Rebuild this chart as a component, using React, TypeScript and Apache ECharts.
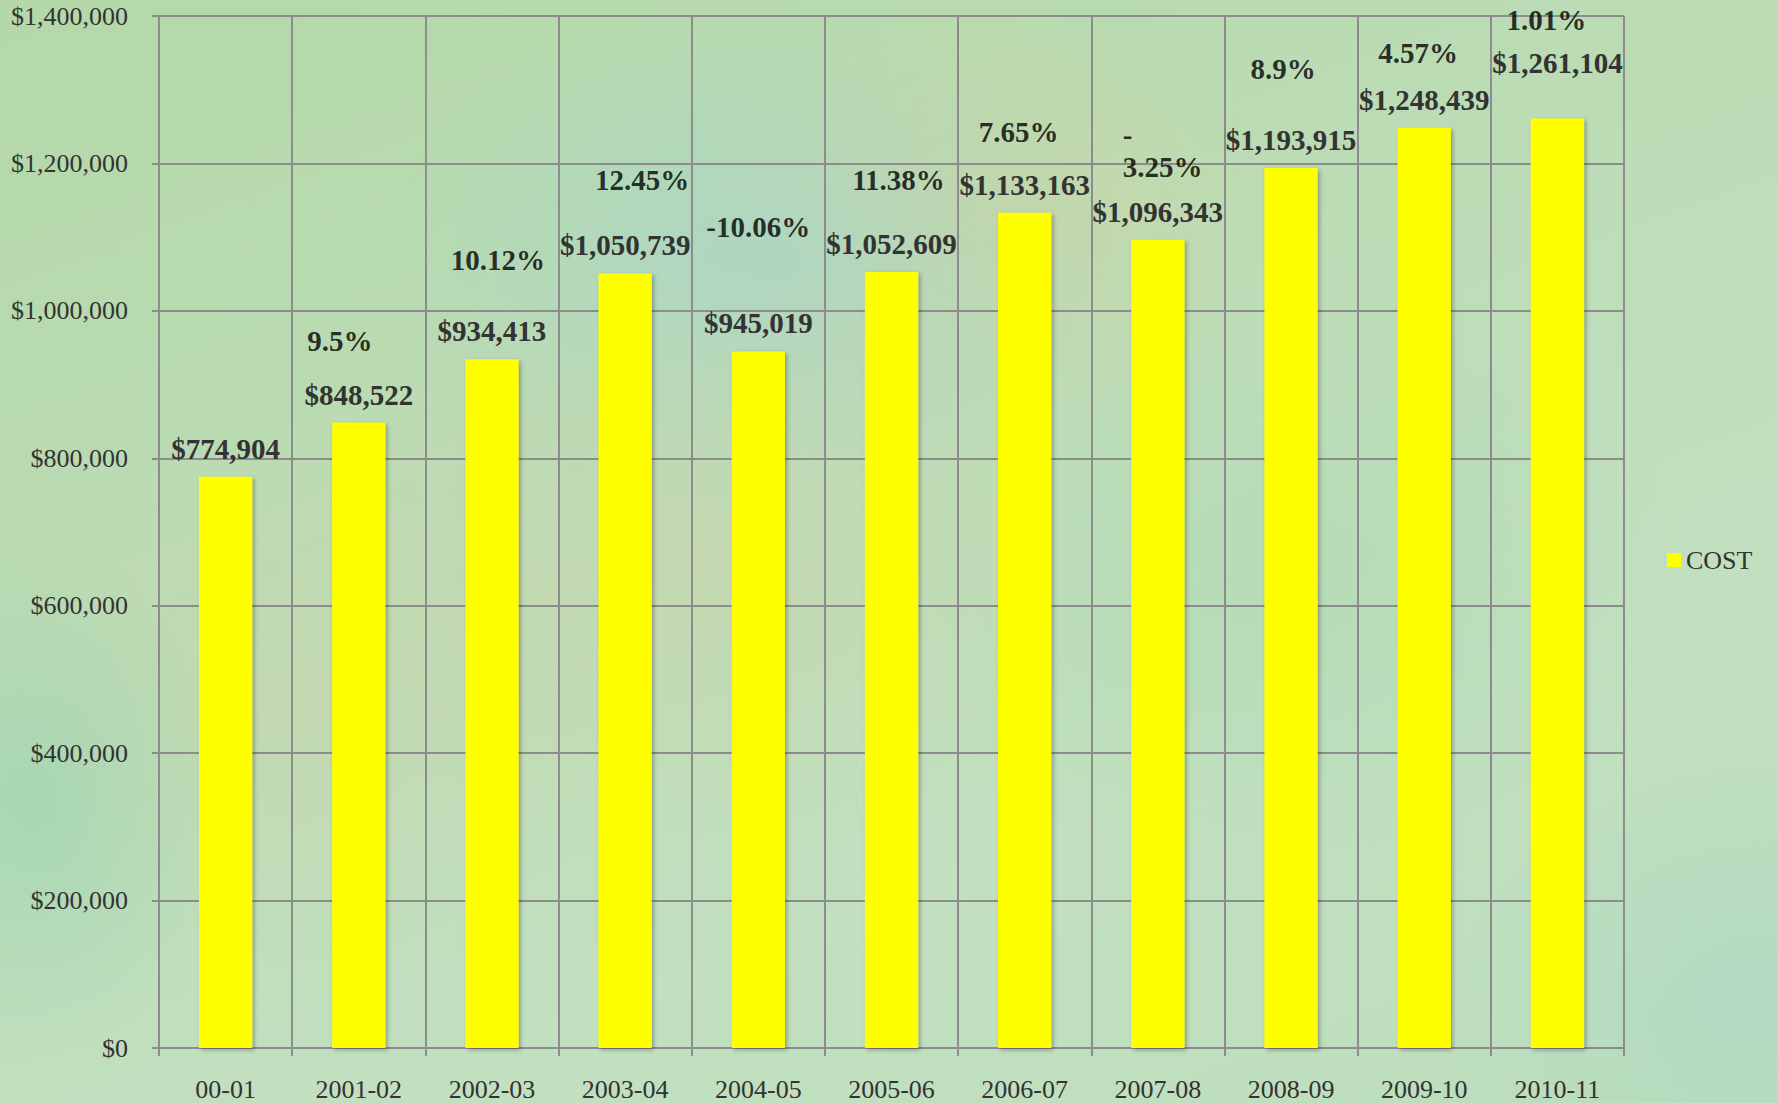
import React, { useEffect, useRef } from "react";
import * as echarts from "echarts";

const categories = ["00-01", "2001-02", "2002-03", "2003-04", "2004-05", "2005-06", "2006-07", "2007-08", "2008-09", "2009-10", "2010-11"];
const costs = [774904, 848522, 934413, 1050739, 945019, 1052609, 1133163, 1096343, 1193915, 1248439, 1261104];
const pctLabels = ["", "9.5%", "10.12%", "12.45%", "-10.06%", "11.38%", "7.65%", "-\n3.25%", "8.9%", "4.57%", "1.01%"];
const seriesName = "COST";

// layout-only: label offsets (px) relative to bar top centre
const pctOffsets = [[0, 0], [-19, -82], [6, -99], [17, -93], [0, -124], [7, -92], [-6, -81], [-35, -89], [-8, -99], [-6, -75], [-11, -98]];
const pctAlign = ["center", "center", "center", "center", "center", "center", "center", "left", "center", "center", "center"];
const valueOffsetY = [0, 0, 0, 0, 0, 0, 0, 0, 0, 0, -27];

const FONT = "'Liberation Serif', 'Times New Roman', serif";
const fmtMoney = (v: number) => "$" + String(Math.round(v)).replace(/\B(?=(\d{3})+(?!\d))/g, ",");

export default function App() {
  const ref = useRef<HTMLDivElement>(null);
  useEffect(() => {
    if (!ref.current) return;
    const chart = echarts.init(ref.current, undefined, { renderer: "svg" });
    const gridColor = "#8c8c8c";
    chart.setOption({
      animation: false,
      backgroundColor: "transparent",
      textStyle: { fontFamily: FONT },
      grid: { left: 159, right: 153, top: 16, bottom: 55, containLabel: false },
      legend: {
        data: [{ name: seriesName, icon: "rect" }],
        orient: "vertical",
        left: 1662,
        top: 542,
        itemWidth: 14,
        itemHeight: 14,
        itemGap: 6,
        textStyle: { fontFamily: FONT, fontSize: 26, color: "#333", padding: [0, 0, 0, 0] },
      },
      xAxis: {
        type: "category",
        data: categories,
        boundaryGap: true,
        axisLine: { show: true, lineStyle: { color: gridColor, width: 2 } },
        axisTick: { show: true, length: 8, lineStyle: { color: gridColor, width: 2 } },
        axisLabel: { fontFamily: FONT, fontSize: 26, color: "#333", margin: 28, interval: 0 },
        splitLine: { show: true, lineStyle: { color: gridColor, width: 2 } },
      },
      yAxis: {
        type: "value",
        min: 0,
        max: 1400000,
        interval: 200000,
        axisLine: { show: true, lineStyle: { color: gridColor, width: 2 } },
        axisTick: { show: true, length: 7, lineStyle: { color: gridColor, width: 2 } },
        axisLabel: { fontFamily: FONT, fontSize: 26, color: "#333", margin: 31, formatter: (v: number) => fmtMoney(v) },
        splitLine: { show: true, lineStyle: { color: gridColor, width: 2 } },
      },
      series: [
        {
          name: seriesName,
          type: "bar",
          barCategoryGap: "60%",
          itemStyle: {
            color: "#ffff00",
            shadowBlur: 4,
            shadowColor: "rgba(0,0,0,0.3)",
            shadowOffsetX: 2,
            shadowOffsetY: 2,
          },
          label: {
            show: true,
            position: "top",
            distance: 14,
            fontFamily: FONT,
            fontSize: 29,
            fontWeight: "bold",
            color: "#333",
            lineHeight: 28,
            formatter: (p: any) => fmtMoney(p.value),
          },
          data: costs.map((v, i) => ({ value: v, label: { offset: [0, valueOffsetY[i]] } })),
        },
        {
          name: "pct",
          type: "scatter",
          symbolSize: 0,
          silent: true,
          z: 5,
          label: {
            show: true,
            position: "inside",
            fontFamily: FONT,
            fontSize: 29,
            fontWeight: "bold",
            color: "#000",
            lineHeight: 32,
            formatter: (p: any) => pctLabels[p.dataIndex],
          },
          data: costs.map((v, i) => ({
            value: v,
            label: { offset: pctOffsets[i], align: pctAlign[i], verticalAlign: "middle" },
          })),
        },
      ],
    });
    return () => chart.dispose();
  }, []);

  const bg = [
    "radial-gradient(ellipse 420px 300px at 700px 560px, rgba(205,210,165,0.4), rgba(205,210,165,0) 100%)",
    "radial-gradient(ellipse 380px 260px at 760px 260px, rgba(160,210,210,0.5), rgba(160,210,210,0) 100%)",
    "radial-gradient(ellipse 300px 220px at 980px 220px, rgba(215,210,150,0.45), rgba(215,210,150,0) 100%)",
    "radial-gradient(ellipse 200px 260px at 30px 800px, rgba(145,210,175,0.5), rgba(145,210,175,0) 100%)",
    "radial-gradient(ellipse 300px 250px at 1750px 1000px, rgba(160,212,200,0.4), rgba(160,212,200,0) 100%)",
    "radial-gradient(ellipse 350px 280px at 300px 700px, rgba(205,210,165,0.35), rgba(205,210,165,0) 100%)",
    "radial-gradient(ellipse 400px 300px at 1300px 600px, rgba(170,215,175,0.45), rgba(170,215,175,0) 100%)",
    "linear-gradient(160deg, #b4d8a8 0%, #bcdcb6 40%, #c2e0c0 70%, #bcdebc 100%)",
  ].join(",");

  return (
    <div
      style={{ position: "fixed", left: 0, top: 0, width: 1777, height: 1103, background: bg }}
    >
      <div ref={ref} style={{ width: 1777, height: 1103 }} />
    </div>
  );
}
